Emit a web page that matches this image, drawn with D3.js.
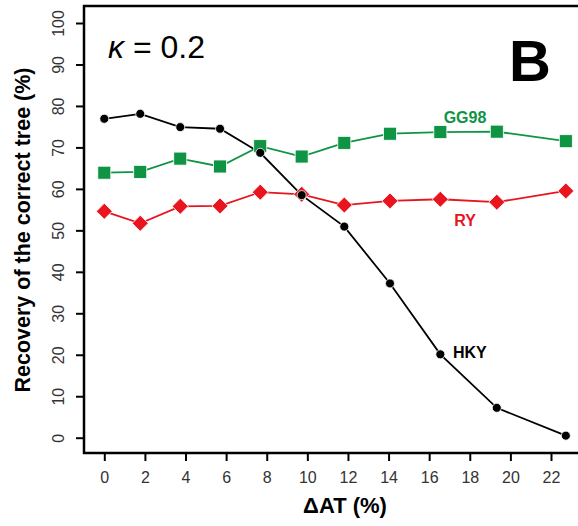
<!DOCTYPE html>
<html><head><meta charset="utf-8">
<script src="https://cdn.jsdelivr.net/npm/d3@7"></script>
<style>body{margin:0;background:#fff}svg{display:block;font-family:"Liberation Sans",Arial,sans-serif}</style>
</head><body><svg id="c" width="578" height="526"></svg>
<script>
const dAT = [0, 1.77, 3.74, 5.7, 7.68, 9.72, 11.82, 14.07, 16.55, 19.33, 22.73];
const hky = [76.9, 78.1, 74.9, 74.5, 68.7, 58.5, 50.9, 37.2, 20.1, 7.2, 0.5];
const gg98 = [63.9, 64.1, 67.3, 65.4, 70.3, 67.8, 71.1, 73.3, 73.7, 73.8, 71.5];
const ry = [54.6, 51.7, 55.8, 55.9, 59.2, 58.7, 56.1, 57.1, 57.5, 56.8, 59.5];
const xTicks = [0,2,4,6,8,10,12,14,16,18,20,22];
const yTicks = [0,10,20,30,40,50,60,70,80,90,100];

const svg = d3.select("#c");
const x = d3.scaleLinear().domain([0,22]).range([104.3,551]);
const y = d3.scaleLinear().domain([0,100]).range([437.7,23]);
const L = 84, T = 6, B = 453, R = 590;

svg.append("path").attr("d",`M${R},${T}H${L}V${B}H${R}`).attr("fill","none").attr("stroke","#000").attr("stroke-width",2.5);

const ya = svg.append("g").attr("transform",`translate(${L},0)`)
  .call(d3.axisLeft(y).tickValues(yTicks).tickSize(8).tickPadding(4));
ya.select(".domain").remove();
ya.selectAll("line").attr("stroke","#000").attr("stroke-width",2);
ya.selectAll("text").attr("transform","rotate(-90,-26,0)")
  .attr("x",-26).attr("dy","0.35em").attr("text-anchor","middle")
  .attr("font-size",16).attr("fill","#333").attr("font-family","Liberation Sans, Arial, sans-serif");

const xa = svg.append("g").attr("transform",`translate(0,${B})`)
  .call(d3.axisBottom(x).tickValues(xTicks).tickSize(8).tickPadding(11));
xa.select(".domain").remove();
xa.selectAll("line").attr("stroke","#000").attr("stroke-width",2);
xa.selectAll("text").attr("font-size",16).attr("fill","#333").attr("font-family","Liberation Sans, Arial, sans-serif");

svg.append("text").attr("transform","translate(30,230) rotate(-90)").attr("text-anchor","middle")
  .attr("font-weight","bold").attr("font-size",21.5).text("Recovery of the correct tree (%)");
svg.append("text").attr("x",345).attr("y",513).attr("text-anchor","middle")
  .attr("font-weight","bold").attr("font-size",22).text("ΔAT (%)");

svg.append("text").attr("x",108).attr("y",58).attr("font-size",32)
  .html('<tspan font-style="italic">κ</tspan> = 0.2');
svg.append("text").attr("x",530).attr("y",81).attr("text-anchor","middle").attr("font-weight","bold").attr("font-size",58).text("B");

const line = d3.line().x(d=>x(d[0])).y(d=>y(d[1]));
const green = "#0f9444", red = "#e8141e";

function series(vals,color){
  const pts = dAT.map((v,i)=>[v,vals[i]]);
  svg.append("path").datum(pts).attr("d",line).attr("fill","none").attr("stroke",color).attr("stroke-width",1.8);
  return pts;
}
const pG = series(gg98,green);
const pR = series(ry,red);
const pH = series(hky,"#000");

svg.selectAll(".sq").data(pG).join("rect").attr("x",d=>x(d[0])-6.5).attr("y",d=>y(d[1])-6.5)
  .attr("width",13).attr("height",13).attr("fill",green).attr("stroke","#fff").attr("stroke-width",0.8);
svg.selectAll(".dm").data(pR).join("path").attr("d",d=>{const cx=x(d[0]),cy=y(d[1]),r=8;return `M${cx},${cy-r}L${cx+r},${cy}L${cx},${cy+r}L${cx-r},${cy}Z`;})
  .attr("fill",red).attr("stroke","#fff").attr("stroke-width",0.8);
svg.selectAll(".ci").data(pH).join("circle").attr("cx",d=>x(d[0])).attr("cy",d=>y(d[1])).attr("r",4.5)
  .attr("fill","#000").attr("stroke","#fff").attr("stroke-width",0.8);

svg.append("text").attr("x",465).attr("y",123).attr("text-anchor","middle").attr("font-weight","bold").attr("font-size",16).attr("fill",green).text("GG98");
svg.append("text").attr("x",465).attr("y",226).attr("text-anchor","middle").attr("font-weight","bold").attr("font-size",16).attr("fill",red).text("RY");
svg.append("text").attr("x",453).attr("y",358).attr("font-weight","bold").attr("font-size",16).attr("fill","#000").text("HKY");
</script></body></html>
